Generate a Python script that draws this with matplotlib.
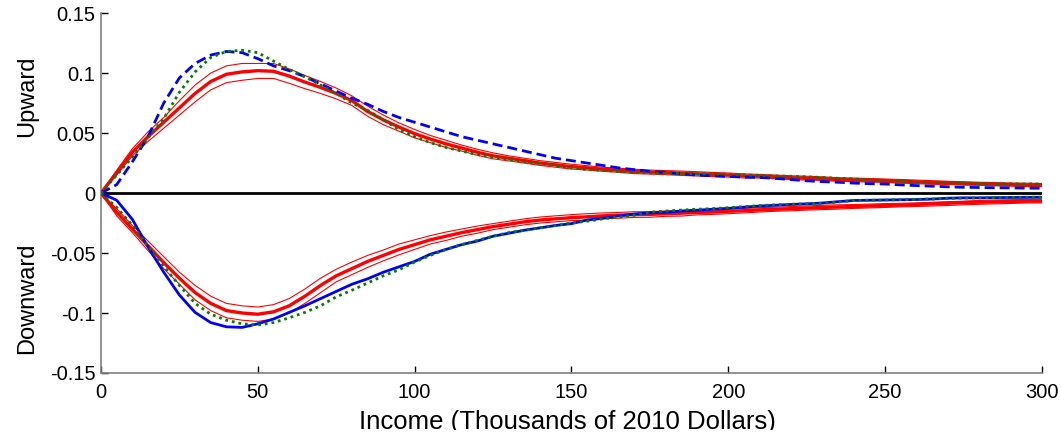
import numpy as np
import matplotlib
matplotlib.use("Agg")
import matplotlib.pyplot as plt

plt.rcParams.update({
    "font.family": ["Liberation Sans", "DejaVu Sans"],
    "axes.unicode_minus": False,
})

# income grid, thousands of 2010 dollars
income = np.arange(0, 301, 5)

# upward mobility
up_blue = [0, 0.007, 0.026, 0.047, 0.075, 0.096, 0.108, 0.115, 0.118, 0.117,
           0.112, 0.106, 0.102, 0.097, 0.091, 0.085, 0.079, 0.074, 0.068, 0.063,
           0.059, 0.055, 0.051, 0.047, 0.044, 0.041, 0.038, 0.035, 0.032, 0.029,
           0.027, 0.025, 0.023, 0.021, 0.0195, 0.018, 0.0172, 0.016, 0.015, 0.0143,
           0.0138, 0.0133, 0.013, 0.0122, 0.0112, 0.0102, 0.0095, 0.009, 0.0083, 0.0078,
           0.0075, 0.0068, 0.0062, 0.0057, 0.0052, 0.0048, 0.0046, 0.0044, 0.0043, 0.0041,
           0.004]
up_green = [0, 0.015, 0.030, 0.046, 0.062, 0.084, 0.101, 0.113, 0.118, 0.119,
            0.117, 0.110, 0.103, 0.097, 0.090, 0.083, 0.075, 0.069, 0.061, 0.053,
            0.047, 0.042, 0.038, 0.035, 0.032, 0.030, 0.028, 0.026, 0.0245, 0.023,
            0.021, 0.0195, 0.019, 0.018, 0.0172, 0.0168, 0.0165, 0.0163, 0.016, 0.016,
            0.0155, 0.015, 0.0148, 0.0142, 0.014, 0.0135, 0.013, 0.0123, 0.0117, 0.011,
            0.0105, 0.0098, 0.009, 0.0088, 0.0085, 0.0082, 0.008, 0.0078, 0.0077, 0.0076,
            0.0075]
up_red = [0, 0.017, 0.034, 0.047, 0.059, 0.071, 0.083, 0.093, 0.099, 0.101,
          0.102, 0.1015, 0.0975, 0.0925, 0.088, 0.083, 0.077, 0.068, 0.061, 0.055,
          0.0495, 0.045, 0.041, 0.0375, 0.034, 0.031, 0.029, 0.027, 0.025, 0.0235,
          0.022, 0.021, 0.0198, 0.019, 0.018, 0.0175, 0.017, 0.0165, 0.016, 0.0155,
          0.015, 0.0143, 0.014, 0.0135, 0.0128, 0.0124, 0.012, 0.0113, 0.011, 0.0106,
          0.0103, 0.0098, 0.0093, 0.0088, 0.0085, 0.008, 0.0077, 0.0073, 0.007, 0.0068,
          0.0067]
up_red_hi = [0, 0.019, 0.037, 0.051, 0.063, 0.077, 0.090, 0.100, 0.106, 0.108,
             0.108, 0.108, 0.1035, 0.098, 0.093, 0.0875, 0.081, 0.0725, 0.065, 0.0585,
             0.053, 0.048, 0.044, 0.040, 0.0365, 0.0335, 0.031, 0.029, 0.027, 0.0255,
             0.024, 0.0228, 0.0215, 0.0207, 0.0198, 0.0192, 0.0187, 0.0183, 0.0178, 0.0172,
             0.0167, 0.016, 0.0155, 0.015, 0.0144, 0.014, 0.0135, 0.0128, 0.0125, 0.0121,
             0.0117, 0.0113, 0.0108, 0.0103, 0.0098, 0.0094, 0.009, 0.0087, 0.0084, 0.0082,
             0.008]
up_red_lo = [0, 0.015, 0.031, 0.043, 0.054, 0.065, 0.076, 0.086, 0.092, 0.094,
             0.0955, 0.0955, 0.0915, 0.087, 0.083, 0.0785, 0.073, 0.064, 0.057, 0.0515,
             0.046, 0.042, 0.038, 0.035, 0.0315, 0.0285, 0.0268, 0.025, 0.023, 0.0215,
             0.020, 0.0192, 0.0181, 0.0173, 0.0162, 0.0158, 0.0153, 0.0147, 0.0142, 0.0138,
             0.0133, 0.0126, 0.0125, 0.012, 0.0112, 0.0108, 0.0105, 0.0098, 0.0095, 0.0091,
             0.0089, 0.0083, 0.0078, 0.0073, 0.0072, 0.0066, 0.0065, 0.006, 0.0058, 0.0054,
             0.0054]

# downward mobility
dn_blue = [0, -0.006, -0.022, -0.045, -0.066, -0.085, -0.0995, -0.108, -0.1115, -0.112,
           -0.109, -0.105, -0.0995, -0.094, -0.088, -0.082, -0.076, -0.0715, -0.066, -0.0615,
           -0.057, -0.051, -0.047, -0.043, -0.040, -0.036, -0.0335, -0.031, -0.029, -0.027,
           -0.0255, -0.0225, -0.021, -0.019, -0.0175, -0.0165, -0.016, -0.015, -0.0143, -0.0135,
           -0.0128, -0.0118, -0.0108, -0.0102, -0.0095, -0.009, -0.0083, -0.0072, -0.0062, -0.006,
           -0.0058, -0.0056, -0.0054, -0.005, -0.0043, -0.004, -0.004, -0.0038, -0.0037, -0.0036,
           -0.0035]
dn_green = [0, -0.012, -0.027, -0.044, -0.061, -0.077, -0.092, -0.101, -0.106, -0.109,
            -0.110, -0.108, -0.104, -0.0995, -0.094, -0.0865, -0.081, -0.075, -0.069, -0.064,
            -0.0575, -0.052, -0.047, -0.043, -0.0395, -0.036, -0.033, -0.031, -0.029, -0.027,
            -0.025, -0.0235, -0.0215, -0.020, -0.0185, -0.016, -0.015, -0.0142, -0.0135, -0.013,
            -0.0122, -0.0113, -0.0105, -0.0098, -0.0093, -0.009, -0.0085, -0.0075, -0.0063, -0.006,
            -0.0058, -0.0055, -0.0052, -0.005, -0.0045, -0.0042, -0.004, -0.0038, -0.0036, -0.0035,
            -0.0035]
dn_red = [0, -0.016, -0.030, -0.044, -0.058, -0.071, -0.083, -0.092, -0.098, -0.100,
          -0.101, -0.099, -0.094, -0.086, -0.077, -0.069, -0.063, -0.057, -0.052, -0.047,
          -0.043, -0.039, -0.036, -0.033, -0.0305, -0.028, -0.026, -0.024, -0.0225, -0.0215,
          -0.0205, -0.0198, -0.019, -0.0185, -0.018, -0.0178, -0.0172, -0.0168, -0.0162, -0.0158,
          -0.0152, -0.0147, -0.014, -0.0135, -0.013, -0.0125, -0.012, -0.0116, -0.0112, -0.0108,
          -0.0104, -0.01, -0.0095, -0.009, -0.0085, -0.008, -0.0076, -0.0073, -0.007, -0.0068,
          -0.0067]
dn_red_hi = [0, -0.013, -0.027, -0.040, -0.053, -0.066, -0.077, -0.086, -0.092, -0.094,
             -0.095, -0.093, -0.088, -0.080, -0.071, -0.0635, -0.0575, -0.052, -0.0475, -0.0425,
             -0.039, -0.0355, -0.0325, -0.030, -0.0275, -0.0255, -0.0235, -0.0215, -0.020, -0.019,
             -0.018, -0.0172, -0.0166, -0.0162, -0.0156, -0.0155, -0.015, -0.0145, -0.0142, -0.0138,
             -0.0132, -0.0128, -0.0122, -0.0118, -0.0113, -0.0108, -0.0102, -0.0098, -0.0096, -0.0092,
             -0.0088, -0.0085, -0.0082, -0.0077, -0.0072, -0.0068, -0.0062, -0.0058, -0.0056, -0.0053,
             -0.0052]
dn_red_lo = [0, -0.019, -0.033, -0.048, -0.063, -0.076, -0.089, -0.098, -0.104, -0.106,
             -0.107, -0.105, -0.100, -0.092, -0.083, -0.074, -0.068, -0.062, -0.0565, -0.0515,
             -0.047, -0.0425, -0.0395, -0.036, -0.0335, -0.0305, -0.0285, -0.0265, -0.025, -0.024,
             -0.023, -0.0225, -0.0214, -0.021, -0.0203, -0.0202, -0.0194, -0.0192, -0.0182, -0.0178,
             -0.0172, -0.0166, -0.0158, -0.0152, -0.0148, -0.0142, -0.0138, -0.0134, -0.0128, -0.0124,
             -0.012, -0.0115, -0.0112, -0.0108, -0.0104, -0.0098, -0.0094, -0.009, -0.0087, -0.0083,
             -0.0082]

y_ticks = [-0.15, -0.1, -0.05, 0, 0.05, 0.1, 0.15]
y_tick_labels = ["-0.15", "-0.1", "-0.05", "0", "0.05", "0.1", "0.15"]
x_ticks = [0, 50, 100, 150, 200, 250, 300]

RED, BLUE, GREEN = "#ff0000", "#0000ff", "#008000"

fig = plt.figure(figsize=(10.61, 4.36), dpi=100)
ax = fig.add_axes([0.0952, 0.1445, 0.8868, 0.8255])

ax.plot([0, 300], [0, 0], color="k", lw=2.0, zorder=1)

for hi, lo, mid in [(up_red_hi, up_red_lo, up_red), (dn_red_hi, dn_red_lo, dn_red)]:
    ax.plot(income, hi, color=RED, lw=0.8, zorder=2)
    ax.plot(income, lo, color=RED, lw=0.8, zorder=2)
    ax.plot(income, mid, color=RED, lw=2.4, zorder=3)

ax.plot(income, up_blue, color=BLUE, lw=2.0, dashes=(3.6, 1.8), zorder=4)
ax.plot(income, dn_blue, color=BLUE, lw=2.0, zorder=4)
ax.plot(income, up_green, color=GREEN, lw=2.0, dashes=(1, 1.4), zorder=5)
ax.plot(income, dn_green, color=GREEN, lw=2.0, dashes=(1, 1.4), zorder=5)

ax.set_xlim(0, 300)
ax.set_ylim(-0.15, 0.15)
ax.set_xticks(x_ticks)
ax.set_yticks(y_ticks)
ax.set_yticklabels(y_tick_labels)
ax.tick_params(direction="in", length=5, width=1, colors="k", labelsize=14.5)
ax.tick_params(axis="x", pad=7)
ax.tick_params(axis="y", pad=4)
for side in ("top", "right"):
    ax.spines[side].set_visible(False)
for side in ("left", "bottom"):
    ax.spines[side].set_color("#808080")
    ax.spines[side].set_linewidth(1.2)

fig.text(0.026, 1 - 96 / 436, "Upward", rotation=90, ha="center", va="center", fontsize=17)
fig.text(0.026, 1 - 298 / 436, "Downward", rotation=90, ha="center", va="center", fontsize=17)
fig.text(567 / 1061, 1 - 429 / 436, "Income (Thousands of 2010 Dollars)",
         ha="center", va="baseline", fontsize=18.5)
# white strip along the bottom edge trims the label's descenders
fig.patches.append(plt.Rectangle((0, 0), 1, 6 / 436, transform=fig.transFigure,
                                 facecolor="white", edgecolor="none", zorder=10))

fig.savefig("out.png", dpi=100)
